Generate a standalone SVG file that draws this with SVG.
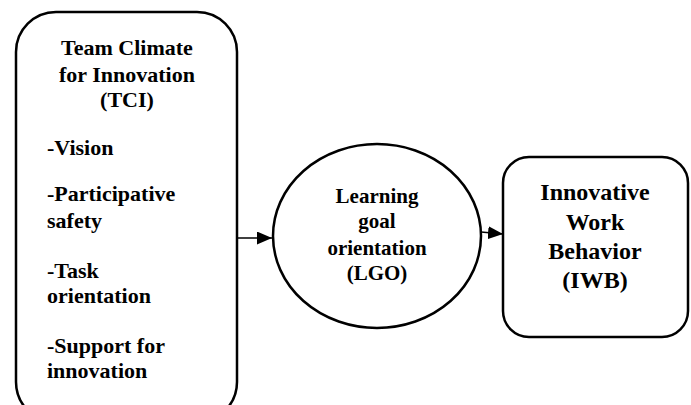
<svg xmlns="http://www.w3.org/2000/svg" width="691" height="405" viewBox="0 0 691 405">
<defs>
<style>
.shape{fill:#fff;stroke:#000;stroke-width:2.5}
text{font-weight:bold;fill:#000}
.c{text-anchor:middle}
.line{stroke:#000;stroke-width:1.5;fill:none}
</style>
<marker id="arr" markerWidth="15" markerHeight="13" refX="15" refY="6.5" orient="auto" markerUnits="userSpaceOnUse" viewBox="0 0 15 13">
<path d="M0,0 L15,6.5 L0,13 Z" fill="#000"/>
</marker>
</defs>
<g font-family="'Liberation Serif', 'Times New Roman', Times, 'DejaVu Serif', serif">
<g id="tci">
<rect class="shape" x="16" y="12" width="221" height="410" rx="40" ry="40"/>
<text class="c" font-size="22" x="127" y="55">Team Climate</text>
<text class="c" font-size="22" x="127" y="82">for Innovation</text>
<text class="c" font-size="22" x="127" y="107">(TCI)</text>
<text font-size="22" x="47" y="155">-Vision</text>
<text font-size="22" x="47" y="201">-Participative</text>
<text font-size="22" x="47" y="228">safety</text>
<text font-size="22" x="47" y="278">-Task</text>
<text font-size="22" x="47" y="303">orientation</text>
<text font-size="22" x="47" y="353">-Support for</text>
<text font-size="22" x="47" y="378">innovation</text>
</g>
<g id="lgo">
<ellipse class="shape" cx="377" cy="236" rx="104" ry="92"/>
<text class="c" font-size="21" x="377" y="203">Learning</text>
<text class="c" font-size="21" x="377" y="228">goal</text>
<text class="c" font-size="21" x="377" y="255">orientation</text>
<text class="c" font-size="21" x="377" y="280">(LGO)</text>
</g>
<g id="iwb">
<rect class="shape" x="503" y="157" width="185" height="180" rx="26" ry="26"/>
<text class="c" font-size="24" x="595" y="200">Innovative</text>
<text class="c" font-size="24" x="595" y="230">Work</text>
<text class="c" font-size="24" x="595" y="259">Behavior</text>
<text class="c" font-size="24" x="595" y="288">(IWB)</text>
</g>
</g>
<g id="connectors">
<path class="line" d="M237,238 L272,238" marker-end="url(#arr)"/>
<path class="line" d="M481,232 L503,234" marker-end="url(#arr)"/>
</g>
</svg>
